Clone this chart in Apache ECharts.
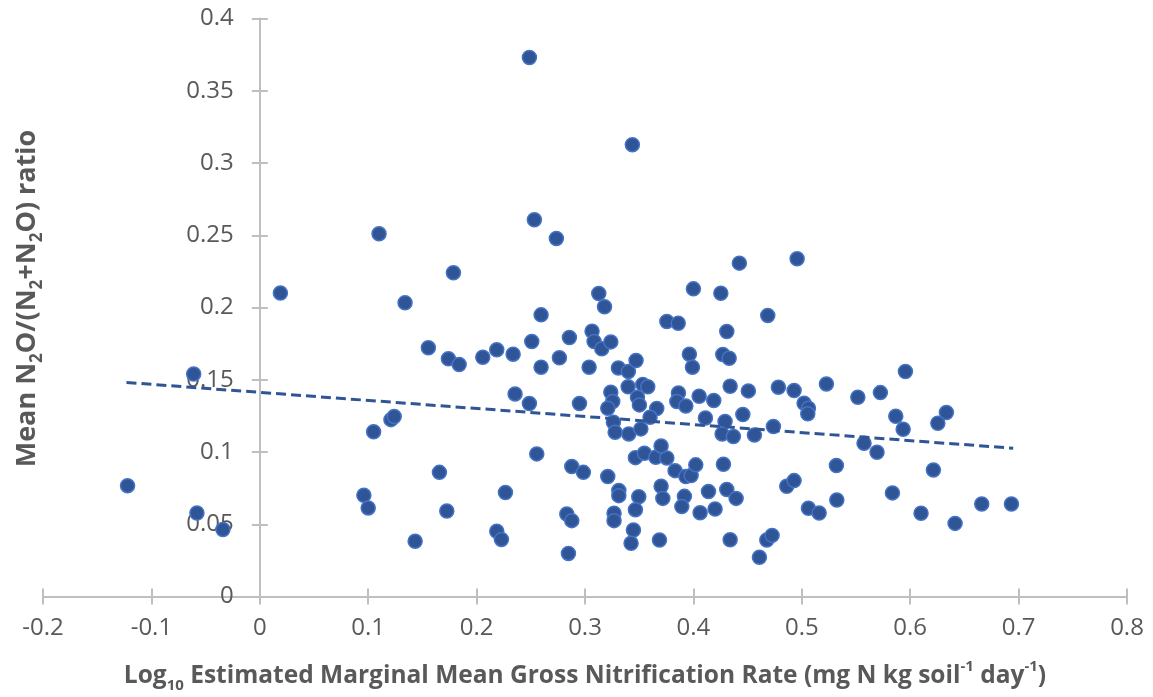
<!DOCTYPE html>
<html>
<head>
<meta charset="utf-8">
<script src="https://cdn.jsdelivr.net/npm/echarts@6/dist/echarts.min.js"></script>
<style>
html,body{margin:0;padding:0;background:#fff;}
#chart{width:1153px;height:697px;}
</style>
</head>
<body>
<div id="chart"></div>
<script>
// Log10 gross nitrification rate (x) and mean N2O/(N2+N2O) ratio (y)
const xValues = [
  0.019, 0.110, 0.134, -0.061, -0.122, -0.058, -0.034, 0.105, 0.121, 0.124, 0.096, 0.100,
  0.2487, 0.3437, 0.2533, 0.2736, 0.1786, 0.3127, 0.318, 0.2595, 0.400, 0.3755, 0.386, 0.3065,
  0.1555, 0.174, 0.1839, 0.2057, 0.2186, 0.2337, 0.2509, 0.2595, 0.2764, 0.2856, 0.3084, 0.3155,
  0.3238, 0.3038, 0.3308, 0.340, 0.3471, 0.3963, 0.3991, 0.2355, 0.2487, 0.2949, 0.3238, 0.3256,
  0.321, 0.3398, 0.3533, 0.3579, 0.3484, 0.3502, 0.3662, 0.360, 0.3262, 0.3278, 0.3404, 0.3515,
  0.3862, 0.3847, 0.393, 0.4053, 0.2555, 0.1657, 0.1725, 0.1433, 0.2266, 0.2186, 0.2229, 0.2878,
  0.2985, 0.2832, 0.2878, 0.2847, 0.321, 0.3312, 0.3312, 0.3268, 0.3268, 0.3465, 0.3548, 0.3653,
  0.3755, 0.3702, 0.3831, 0.393, 0.3979, 0.4022, 0.3496, 0.3465, 0.3702, 0.3718, 0.3917, 0.3893,
  0.4062, 0.3447, 0.3425, 0.3687,
  0.4424, 0.4957, 0.4253, 0.4686, 0.4308, 0.4271, 0.433, 0.4339, 0.4507, 0.4784, 0.4929, 0.5021,
  0.5061, 0.5055, 0.5227, 0.5517, 0.5725, 0.5956, 0.5867, 0.5935, 0.6334, 0.6255, 0.4188, 0.4111,
  0.4292, 0.4456, 0.4265, 0.4369, 0.4563, 0.4738, 0.5574, 0.5694, 0.4277, 0.5319, 0.6214, 0.4139,
  0.4308, 0.4394, 0.420, 0.4861, 0.4929, 0.5061, 0.5160, 0.5323, 0.5836, 0.610, 0.6414, 0.666,
  0.6934, 0.4339, 0.4677, 0.4726, 0.4609
];
const yValues = [
  0.210, 0.251, 0.2033, 0.154, 0.0767, 0.0578, 0.0463, 0.114, 0.1224, 0.1245, 0.070, 0.0613,
  0.373, 0.3127, 0.2607, 0.2478, 0.2240, 0.2097, 0.2005, 0.1949, 0.2129, 0.1903, 0.1891, 0.1836,
  0.1721, 0.1645, 0.1605, 0.1656, 0.1707, 0.1677, 0.1765, 0.1587, 0.1652, 0.1792, 0.1765, 0.1714,
  0.1762, 0.1587, 0.1582, 0.1557, 0.1633, 0.1677, 0.1587, 0.1402, 0.1335, 0.1335, 0.1413, 0.1349,
  0.1303, 0.1451, 0.1467, 0.1451, 0.1379, 0.1326, 0.1301, 0.1240, 0.1206, 0.1137, 0.1125, 0.1160,
  0.1409, 0.1349, 0.1319, 0.1386, 0.0987, 0.0859, 0.0592, 0.0382, 0.0719, 0.0451, 0.0395, 0.0899,
  0.0859, 0.0571, 0.0525, 0.0298, 0.0830, 0.0733, 0.0698, 0.0576, 0.0525, 0.0961, 0.0991, 0.0963,
  0.0959, 0.1042, 0.0871, 0.0830, 0.0837, 0.0911, 0.0691, 0.0601, 0.0763, 0.0679, 0.0693, 0.0622,
  0.058, 0.0460, 0.0368, 0.0391,
  0.2307, 0.2337, 0.2099, 0.1945, 0.1834, 0.1675, 0.1649, 0.1455, 0.1423, 0.1448, 0.1425, 0.1337,
  0.1303, 0.1264, 0.1471, 0.1379, 0.1411, 0.1557, 0.1247, 0.1157, 0.1273, 0.1199, 0.1356, 0.1236,
  0.1211, 0.1259, 0.1125, 0.1107, 0.1118, 0.1176, 0.1060, 0.0998, 0.0915, 0.0906, 0.0876, 0.0726,
  0.0740, 0.0679, 0.0606, 0.0763, 0.0802, 0.0610, 0.0578, 0.0668, 0.0717, 0.0576, 0.0506, 0.0640,
  0.0640, 0.0393, 0.0391, 0.0423, 0.0271
];
// Linear trendline endpoints
const trendX = [-0.123, 0.695];
const trendY = [0.1481, 0.1026];
// Axis ranges / ticks
const xTicks = { min: -0.2, max: 0.8, interval: 0.1 };
const yTicks = { min: 0, max: 0.4, interval: 0.05 };

const points = xValues.map((x, i) => [x, yValues[i]]);
const trend = trendX.map((x, i) => [x, trendY[i]]);

const FONT = '"Open Sans", "Noto Sans", sans-serif';
const labelColor = '#595959';
const axisColor = '#BFBFBF';

const W = 1153, GRID_L = 43, GRID_R = 26;
const gridW = W - GRID_L - GRID_R;
// the vertical axis crosses at x = 0: shift it right from the grid's left edge
const yAxisOffset = -((0 - xTicks.min) / (xTicks.max - xTicks.min)) * gridW;

function makeRich(size, subSize, lh) {
  return {
    b: { fontFamily: FONT, fontSize: size, fontWeight: 'bold', color: labelColor, lineHeight: lh },
    sub: { fontFamily: FONT, fontSize: subSize, fontWeight: 'bold', color: labelColor, lineHeight: subSize, verticalAlign: 'bottom' },
    sup: { fontFamily: FONT, fontSize: subSize, fontWeight: 'bold', color: labelColor, lineHeight: subSize, verticalAlign: 'top' }
  };
}

const chart = echarts.init(document.getElementById('chart'), null, { renderer: 'canvas' });
chart.setOption({
  animation: false,
  backgroundColor: '#ffffff',
  grid: { left: GRID_L, right: GRID_R, top: 18.5, bottom: 100.5, containLabel: false, outerBoundsMode: 'none' },
  xAxis: [{
    type: 'value', min: xTicks.min, max: xTicks.max, interval: xTicks.interval,
    position: 'bottom',
    axisLine: { show: true, onZero: false, lineStyle: { color: axisColor, width: 2 } },
    axisTick: { show: true, length: 8, lineStyle: { color: axisColor, width: 2 } },
    axisLabel: { color: labelColor, fontFamily: FONT, fontSize: 24, margin: 20 },
    splitLine: { show: false },
    name: '{b|Log}{sub|10}{b| Estimated Marginal Mean Gross Nitrification Rate (mg N kg soil}{sup|-1}{b| day}{sup|-1}{b|)}',
    nameLocation: 'middle', nameGap: 63,
    nameTextStyle: { rich: makeRich(24.5, 15, 34) }
  }, {
    type: 'value', min: xTicks.min, max: xTicks.max, interval: xTicks.interval,
    position: 'bottom',
    axisLine: { show: false, onZero: false },
    axisTick: { show: true, inside: true, length: 8, lineStyle: { color: axisColor, width: 2 } },
    axisLabel: { show: false },
    splitLine: { show: false }
  }],
  yAxis: [{
    type: 'value', min: yTicks.min, max: yTicks.max, interval: yTicks.interval,
    position: 'left', offset: yAxisOffset,
    axisLine: { show: true, onZero: false, lineStyle: { color: axisColor, width: 2 } },
    axisTick: { show: true, length: 8, lineStyle: { color: axisColor, width: 2 } },
    axisLabel: { color: labelColor, fontFamily: FONT, fontSize: 24, margin: 26 },
    splitLine: { show: false },
    name: '{b|Mean N}{sub|2}{b|O/(N}{sub|2}{b|+N}{sub|2}{b|O) ratio}',
    nameLocation: 'middle', nameGap: 214, nameRotate: 90,
    nameTextStyle: { rich: makeRich(27, 17, 36), padding: [0, 0, 0, 18] }
  }, {
    type: 'value', min: yTicks.min, max: yTicks.max, interval: yTicks.interval,
    position: 'left', offset: yAxisOffset,
    axisLine: { show: false, onZero: false },
    axisTick: { show: true, inside: true, length: 8, lineStyle: { color: axisColor, width: 2 } },
    axisLabel: { show: false },
    splitLine: { show: false }
  }],
  series: [{
    type: 'scatter',
    xAxisIndex: 0, yAxisIndex: 0,
    data: points,
    symbol: 'circle',
    symbolSize: 14,
    itemStyle: { color: '#2F5597', borderColor: '#4472C4', borderWidth: 1.5, opacity: 1 },
    z: 2
  }, {
    type: 'line',
    xAxisIndex: 1, yAxisIndex: 1,
    data: trend,
    showSymbol: false,
    symbol: 'none',
    lineStyle: { color: '#2F5597', width: 3, type: [10, 5] },
    z: 3,
    silent: true
  }]
});
</script>
</body>
</html>
